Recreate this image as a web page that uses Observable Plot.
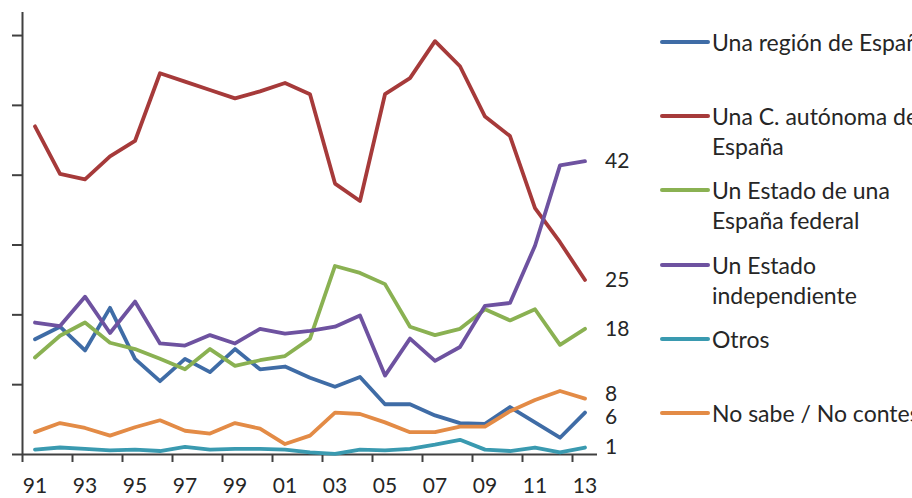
<!DOCTYPE html>
<html>
<head>
<meta charset="utf-8">
<script src="https://cdn.jsdelivr.net/npm/d3@7"></script>
<script src="https://cdn.jsdelivr.net/npm/@observablehq/plot@0.6"></script>
<style>
  body { margin: 0; background: #fff; font-family: Lato, "Open Sans", sans-serif; }
  #wrap { position: relative; width: 912px; height: 498px; overflow: hidden; background: #fff; }
  #wrap svg { position: absolute; left: 0; top: 0; }
  .leg { position: absolute; left: 660px; display: flex; align-items: flex-start;
         font-size: 23px; line-height: 30px; color: #262626; white-space: pre; }
  .leg .sw { width: 50px; height: 4px; border-radius: 2px; margin-top: 13px; margin-right: 2px; flex: none; }
</style>
</head>
<body>
<div id="wrap"></div>
<script>
// Survey years 1991–2013
const years = d3.range(1991, 2014);

// Series names, as shown in the legend
const seriesNames = [
  "Una región de España",
  "Una C. autónoma de\nEspaña",
  "Un Estado de una\nEspaña federal",
  "Un Estado\nindependiente",
  "Otros",
  "No sabe / No contesta"
];

const seriesColors = ["#3F6CA6", "#A63A3A", "#8AB152", "#6E52A0", "#3A9AB0", "#E38B46"];

// Percentages per year, 1991 … 2013
const region      = [16.5, 18.3, 14.9, 21.0, 13.7, 10.5, 13.7, 11.8, 15.1, 12.2, 12.6, 11.0, 9.7, 11.1, 7.2, 7.2, 5.6, 4.5, 4.4, 6.8, 4.6, 2.4, 6];
const autonomia   = [47.0, 40.2, 39.4, 42.7, 44.9, 54.6, 53.4, 52.2, 51.0, 52.0, 53.2, 51.6, 38.8, 36.3, 51.6, 53.9, 59.2, 55.6, 48.4, 45.6, 35.3, 30.4, 25];
const federal     = [13.9, 17.0, 18.9, 16.0, 15.1, 13.7, 12.2, 15.1, 12.7, 13.5, 14.1, 16.6, 27.0, 26.0, 24.4, 18.3, 17.1, 18.0, 20.8, 19.2, 20.8, 15.7, 18];
const independ    = [18.9, 18.4, 22.6, 17.4, 21.9, 15.9, 15.6, 17.1, 15.9, 18.0, 17.3, 17.7, 18.3, 19.9, 11.3, 16.6, 13.4, 15.4, 21.3, 21.7, 29.9, 41.4, 42];
const otros       = [0.7, 1.0, 0.8, 0.6, 0.7, 0.5, 1.1, 0.7, 0.8, 0.8, 0.7, 0.3, 0.1, 0.7, 0.6, 0.8, 1.4, 2.1, 0.7, 0.5, 1.0, 0.3, 1];
const noSabe      = [3.2, 4.5, 3.8, 2.7, 3.9, 4.9, 3.4, 3.0, 4.5, 3.7, 1.5, 2.7, 6.0, 5.8, 4.6, 3.2, 3.2, 4.0, 4.0, 6.2, 7.8, 9.1, 8];

const seriesValues = [region, autonomia, federal, independ, otros, noSabe];

// Axis ticks
const yTicks = [0, 10, 20, 30, 40, 50, 60];
const xLabelYears = years.filter(y => y % 2 === 1);
const xTickMarks = xLabelYears.map(y => y - 0.5);

// Long-format table for the line mark
const data = seriesNames.flatMap((name, i) =>
  seriesValues[i].map((v, j) => ({ year: years[j], value: v, series: name }))
);

// End-of-line value labels (last year), spread apart when they crowd
const minGap = 3.3;
const endLabels = seriesNames.map((name, i) => {
  const v = seriesValues[i][seriesValues[i].length - 1];
  return { series: name, value: v, pos: v, year: years[years.length - 1] };
}).sort((a, b) => a.value - b.value);
for (let k = 1; k < endLabels.length; k++) {
  const a = endLabels[k - 1], b = endLabels[k];
  if (b.pos - a.pos < minGap) {
    const mid = (a.pos + b.pos) / 2;
    a.pos = mid - minGap / 2;
    b.pos = mid + minGap / 2;
  }
}

const axisColor = "#404040";

const chart = Plot.plot({
  width: 912,
  height: 498,
  marginLeft: 22,
  marginRight: 315,
  marginTop: 12,
  marginBottom: 44,
  x: { domain: [1990.5, 2013.5], label: null },
  y: { domain: [0, 63.3], label: null },
  color: { domain: seriesNames, range: seriesColors },
  style: { fontFamily: "Lato, 'Open Sans', sans-serif", fontSize: "20px", color: "#262626", overflow: "visible", background: "transparent" },
  marks: [
    Plot.axisY({ ticks: yTicks, tickFormat: () => "", tickSize: 10, stroke: axisColor, strokeWidth: 2 }),
    Plot.axisX({ ticks: xTickMarks, tickFormat: () => "", tickSize: 8, stroke: axisColor, strokeWidth: 2 }),
    Plot.axisX({ ticks: xLabelYears, tickFormat: d => String(d % 100).padStart(2, "0"), tickSize: 0, tickPadding: 24, fontSize: 21, fill: "#262626" }),
    Plot.ruleX([1990.5], { stroke: axisColor, strokeWidth: 2 }),
    Plot.ruleY([0], { stroke: axisColor, strokeWidth: 2 }),
    Plot.line(data, { x: "year", y: "value", z: "series", stroke: "series", strokeWidth: 3.8, strokeLinejoin: "round", strokeLinecap: "round" }),
    Plot.text(endLabels, { x: "year", y: "pos", text: d => String(d.value), dx: 20, textAnchor: "start", fontSize: 21, fill: "#262626" })
  ]
});

const wrap = document.getElementById("wrap");
wrap.appendChild(chart);

// Legend on the right
const legendTop = 42, legendStep = 74.2;
seriesNames.forEach((name, i) => {
  const item = document.createElement("div");
  item.className = "leg";
  item.style.top = (legendTop + legendStep * i - 15) + "px";
  const sw = document.createElement("span");
  sw.className = "sw";
  sw.style.background = seriesColors[i];
  const label = document.createElement("span");
  label.textContent = name;
  item.appendChild(sw);
  item.appendChild(label);
  wrap.appendChild(item);
});
</script>
</body>
</html>
